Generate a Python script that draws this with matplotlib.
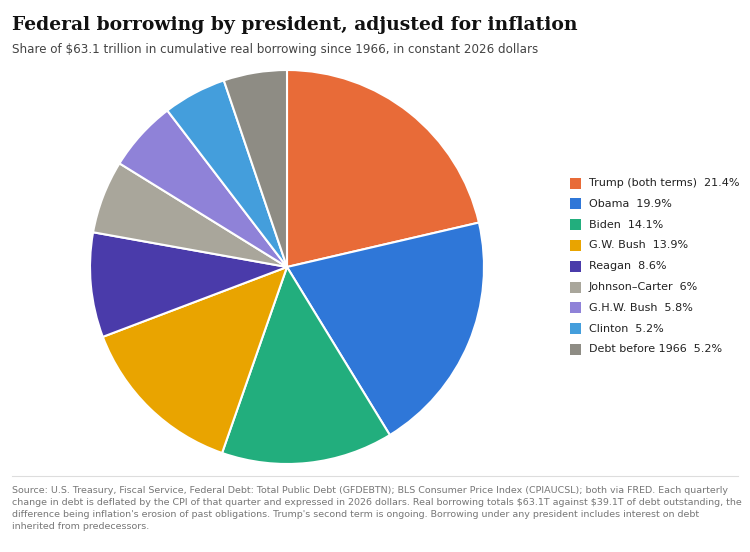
import matplotlib
matplotlib.use("Agg")
import matplotlib.pyplot as plt
from matplotlib.patches import Rectangle

plt.rcParams["text.parse_math"] = False

labels = ["Trump (both terms)", "Obama", "Biden", "G.W. Bush", "Reagan",
          "Johnson–Carter", "G.H.W. Bush", "Clinton", "Debt before 1966"]
values = [21.4, 19.9, 14.1, 13.9, 8.6, 6.0, 5.8, 5.2, 5.2]
value_labels = ["21.4%", "19.9%", "14.1%", "13.9%", "8.6%", "6%", "5.8%", "5.2%", "5.2%"]
colors = ["#E86B38", "#2F77D8", "#22AE7D", "#E9A400", "#4A3BAA",
          "#A9A69B", "#8F82D8", "#449EDC", "#8E8C84"]

fig = plt.figure(figsize=(7.5, 5.52), dpi=100)
W, H = 750, 552

cx, cy, r = 287, 267, 197
ax = fig.add_axes([(cx - r) / W, 1 - (cy + r) / H, 2 * r / W, 2 * r / H])
ax.pie(values, colors=colors, startangle=90, counterclock=False,
       wedgeprops=dict(edgecolor="white", linewidth=1.5))
ax.set_xlim(-1.0, 1.0)
ax.set_ylim(-1.0, 1.0)
ax.set_aspect("equal")
ax.axis("off")

fig.text(12 / W, 1 - 25 / H, "Federal borrowing by president, adjusted for inflation",
         family="DejaVu Serif", weight="bold", fontsize=13.5, va="center", color="#111111")
fig.text(12 / W, 1 - 50 / H,
         "Share of $63.1 trillion in cumulative real borrowing since 1966, in constant 2026 dollars",
         fontsize=8.6, va="center", color="#444444")

y0, dy = 183, 20.8
for i, (lab, vl, c) in enumerate(zip(labels, value_labels, colors)):
    y = y0 + i * dy
    fig.patches.append(Rectangle((570 / W, 1 - (y + 5.5) / H), 11 / W, 11 / H,
                                 transform=fig.transFigure, facecolor=c, edgecolor="none"))
    fig.text(589 / W, 1 - y / H, f"{lab}  {vl}", fontsize=8.0, va="center", color="#222222")

fig.add_artist(plt.Line2D([12 / W, 738 / W], [1 - 476 / H, 1 - 476 / H],
                          color="#dddddd", linewidth=0.8, transform=fig.transFigure))
src = ("Source: U.S. Treasury, Fiscal Service, Federal Debt: Total Public Debt (GFDEBTN); BLS Consumer Price Index (CPIAUCSL); both via FRED. Each quarterly\n"
       "change in debt is deflated by the CPI of that quarter and expressed in 2026 dollars. Real borrowing totals $63.1T against $39.1T of debt outstanding, the\n"
       "difference being inflation's erosion of past obligations. Trump's second term is ongoing. Borrowing under any president includes interest on debt\n"
       "inherited from predecessors.")
fig.text(12 / W, 1 - 486 / H, src, fontsize=6.8, va="top", color="#777777", linespacing=1.45)

fig.savefig("out.png", dpi=100, facecolor="white")
